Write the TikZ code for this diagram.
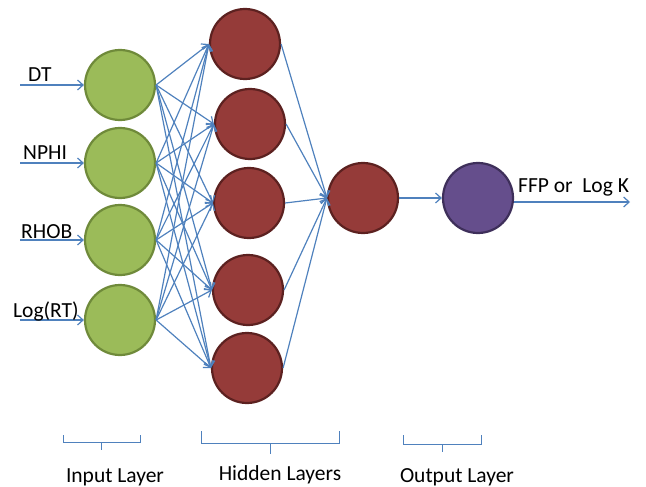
\documentclass[tikz,border=0pt]{standalone}
\usepackage{fontspec}
\setmainfont{Carlito}
\usetikzlibrary{arrows.meta}
\definecolor{linkblue}{HTML}{4F81BD}
\definecolor{ingreen}{HTML}{9BBB59}
\definecolor{ingreenD}{HTML}{6F8A3A}
\definecolor{hidred}{HTML}{953B39}
\definecolor{hidredD}{HTML}{5C2120}
\definecolor{outpurple}{HTML}{654E8C}
\definecolor{outpurpleD}{HTML}{3E2F5A}
\tikzset{
  neuron/.style={circle, minimum size=70pt, inner sep=0pt, line width=2.2pt},
  inneuron/.style={neuron, fill=ingreen, draw=ingreenD},
  hidneuron/.style={neuron, fill=hidred, draw=hidredD},
  outneuron/.style={neuron, fill=outpurple, draw=outpurpleD},
  link/.style={draw=linkblue, line width=1.2pt, -{Straight Barb[length=5.5pt,width=10pt]}},
  lbl/.style={font=\fontsize{21.5}{21.5}\selectfont, inner sep=0pt, text=black},
  bracepath/.style={draw=linkblue, line width=1pt}
}
\begin{document}
\begin{tikzpicture}[x=1pt, y=-1pt]
\useasboundingbox (0,0) rectangle (646,487);

% input layer
\node[inneuron] (i1) at (120,85) {};
\node[inneuron] (i2) at (120,163) {};
\node[inneuron] (i3) at (120,240) {};
\node[inneuron] (i4) at (120,320) {};

% hidden layer 1
\node[hidneuron] (h1) at (245,44) {};
\node[hidneuron] (h2) at (250,124) {};
\node[hidneuron] (h3) at (249,203) {};
\node[hidneuron] (h4) at (248,290) {};
\node[hidneuron] (h5) at (247,368) {};

% hidden layer 2
\node[hidneuron] (m) at (363,198) {};

% output neuron
\node[outneuron] (o) at (478,198) {};

% input feeds
\coordinate (s1) at (20,85);
\coordinate (s2) at (20,163);
\coordinate (s3) at (20,240);
\coordinate (s4) at (20,320);
\draw[link] (s1) -- (i1);
\draw[link] (s2) -- (i2);
\draw[link] (s3) -- (i3);
\draw[link] (s4) -- (i4);

\node[lbl, anchor=base west] (tDT) at (28,82) {DT};
\node[lbl, anchor=base west] (tNPHI) at (23,160) {NPHI};
\node[lbl, anchor=base west] (tRHOB) at (21,238) {RHOB};
\node[lbl, anchor=base west] (tLRT) at (13,317) {Log(RT)};

% fully connected input -> hidden
\foreach \i in {1,...,4}{
  \foreach \h in {1,...,5}{
    \draw[link] (i\i.east) -- (h\h.west);
  }
}

% hidden -> second hidden
\foreach \h in {1,...,5}{
  \draw[link] (h\h.east) -- (m.west);
}

\draw[link] (m.east) -- (o.west);

% network output
\coordinate (oend) at (630,202);
\draw[link] (o.east |- oend) -- (oend);
\node[lbl, anchor=base west] (tOut) at (518,192) {FFP or\ \ Log K};

% layer braces
\draw[bracepath] (63,435) -- (63,442) -- (140,442) -- (140,435);
\draw[bracepath] (101.5,442) -- (101.5,450);
\draw[bracepath] (201,431) -- (201,443) -- (339,443) -- (339,431);
\draw[bracepath] (270,443) -- (270,454);
\draw[bracepath] (403,435) -- (403,444) -- (481,444) -- (481,435);
\draw[bracepath] (442,444) -- (442,452);

\node[lbl, anchor=base] (tIn) at (115,482) {Input Layer};
\node[lbl, anchor=base] (tHid) at (280,480) {Hidden Layers};
\node[lbl, anchor=base] (tOutL) at (457,482) {Output Layer};
\end{tikzpicture}
\end{document}
